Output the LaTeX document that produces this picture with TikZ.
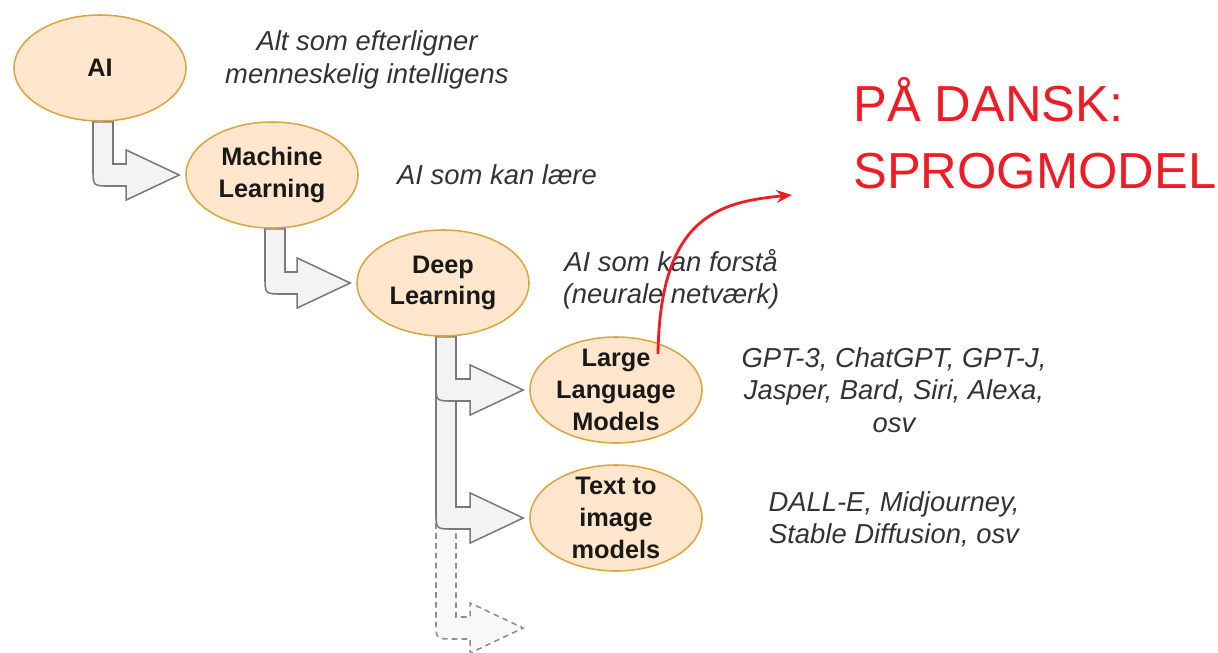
\documentclass[tikz,border=0pt]{standalone}
\usepackage{fontspec}
\setmainfont{Liberation Sans}
\usepackage{tikz}
\usetikzlibrary{shapes.geometric,arrows.meta,calc,backgrounds}
\definecolor{peach}{HTML}{FFE6CC}
\definecolor{peachline}{HTML}{D6A743}
\definecolor{pipefill}{HTML}{F3F3F3}
\definecolor{pipeline}{HTML}{7A7A7A}
\definecolor{danskred}{HTML}{EE1C25}
\tikzstyle{bubble} = [ellipse, minimum width=4.3cm, minimum height=2.65cm, inner sep=0pt, draw=peachline, fill=peach, line width=1.1pt]
\tikzstyle{bubbletext} = [align=center, font=\fontsize{18}{22.5}\selectfont\bfseries, text=black!90]
\tikzstyle{desc} = [align=center, font=\fontsize{19.5}{23}\selectfont\itshape, text=black!80]
\tikzstyle{dansk} = [anchor=base west, inner sep=0pt, font=\fontsize{36}{42}\selectfont, text=danskred]
\tikzstyle{pipe} = [draw=pipeline, fill=pipefill, line width=1.1pt]
\tikzstyle{pipemore} = [pipe, draw=pipeline!85, fill=pipefill!60, dash pattern=on 4pt off 3pt]
\tikzstyle{redarrow} = [draw=danskred, line width=2pt, -{Stealth[length=11pt,width=9pt]}]
\newcommand{\bentpipe}[3][pipe]{%
  \draw[#1] ($(#2.south)+(-7,0)$) coordinate (s) -- ++(20,0) |- ($(#3)+(-53,-11)$) -- ++(0,-14) -- (#3)
    -- ($(#3)+(-53,25)$) -- ++(0,-14) -- ($(s |- #3)+(17,11)$) .. controls ($(s |- #3)+(0,11)$) .. ($(s |- #3)+(0,-6)$) -- cycle;}

\begin{document}
\begin{tikzpicture}[x=0.025cm, y=-0.025cm]
\useasboundingbox (0,0) rectangle (1218,652);

\node (ai) [bubble] at (100,68) {};
\node (ml) [bubble] at (272,175) {};
\node (dl) [bubble] at (443,283) {};
\node (llm) [bubble] at (616,390) {};
\node (tti) [bubble] at (616,518) {};

\node (aitext) [bubbletext] at (ai) {AI};
\node (mltext) [bubbletext] at (ml) {Machine\\Learning};
\node (dltext) [bubbletext] at (dl) {Deep\\Learning};
\node (llmtext) [bubbletext] at (llm) {Large\\Language\\Models};
\node (ttitext) [bubbletext] at (tti) {Text to\\image\\models};

\node (aidesc) [desc] at (367,60) {Alt som efterligner\\menneskelig intelligens};
\node (mldesc) [desc] at (497,175) {AI som kan lære};
\node (dldesc) [desc] at (671,279) {AI som kan forstå\\(neurale netværk)};
\node (llmdesc) [desc] at (894,390) {GPT-3, ChatGPT, GPT-J,\\Jasper, Bard, Siri, Alexa,\\osv};
\node (ttidesc) [desc] at (894,519) {DALL-E, Midjourney,\\Stable Diffusion, osv};

\node (dansk1) [dansk] at (853,121) {PÅ DANSK:};
\node (dansk2) [dansk] at (853,188) {SPROGMODEL};

\coordinate (mltip) at ($(ml.west)+(-6,0)$);
\coordinate (dltip) at ($(dl.west)+(-6,0)$);
\coordinate (llmtip) at ($(llm.west)+(-6,0)$);
\coordinate (ttitip) at ($(tti.west)+(-6,0)$);
\coordinate (moretip) at ($(tti.west)+(-6,110)$);

\begin{scope}[on background layer]
\bentpipe{ai}{mltip}
\bentpipe{ml}{dltip}
\bentpipe[pipemore]{dl}{moretip}
\bentpipe{dl}{ttitip}
\bentpipe{dl}{llmtip}
\end{scope}

\coordinate (llmpin) at ($(llm.center)+(42,-36)$);
\coordinate (danskpin) at (792,195);
\draw [redarrow] (llmpin) .. controls ($(llmpin)+(2,-137)$) and ($(llmpin)+(60,-152)$) .. (danskpin);
\end{tikzpicture}
\end{document}
